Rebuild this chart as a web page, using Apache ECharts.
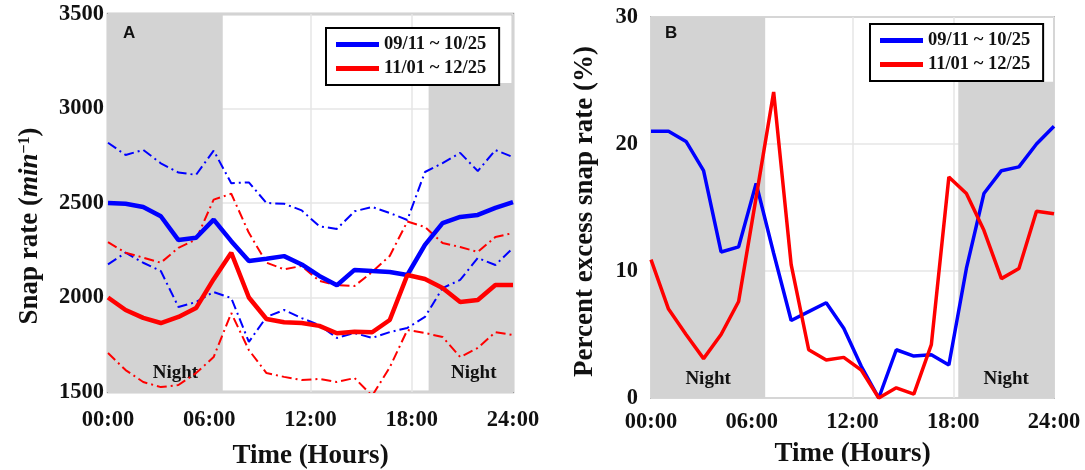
<!DOCTYPE html>
<html>
<head>
<meta charset="utf-8">
<script src="https://cdn.jsdelivr.net/npm/echarts@6/dist/echarts.min.js"></script>
<style>
  html, body { margin: 0; padding: 0; background: #fff; }
  #chart { width: 1085px; height: 470px; }
</style>
</head>
<body>
<div id="chart"></div>
<script>
// Hourly snap rates (min^-1) for the two recording periods
const periodNames = ['09/11 ~ 10/25', '11/01 ~ 12/25'];
const hourTicks = ['00:00', '06:00', '12:00', '18:00', '24:00'];

const sepOctMean  = [2500, 2496, 2479, 2430, 2304, 2316, 2412, 2298, 2193, 2205, 2219, 2175, 2114, 2065, 2146, 2140, 2135, 2119, 2278, 2394, 2426, 2437, 2474, 2505];
const sepOctUpper = [2819, 2754, 2781, 2710, 2661, 2649, 2777, 2605, 2609, 2500, 2496, 2461, 2377, 2363, 2456, 2479, 2447, 2410, 2664, 2711, 2765, 2669, 2780, 2743];
const sepOctLower = [2175, 2237, 2184, 2140, 1950, 1976, 2029, 1997, 1765, 1897, 1934, 1891, 1854, 1786, 1812, 1786, 1817, 1839, 1897, 2050, 2093, 2209, 2172, 2262];

const novDecMean  = [2000, 1934, 1892, 1865, 1897, 1944, 2097, 2237, 2000, 1886, 1869, 1865, 1850, 1811, 1819, 1816, 1881, 2119, 2098, 2050, 1976, 1987, 2066, 2066];
const novDecUpper = [2293, 2237, 2211, 2184, 2263, 2307, 2518, 2549, 2342, 2184, 2149, 2167, 2088, 2065, 2061, 2135, 2220, 2402, 2373, 2288, 2267, 2241, 2320, 2341];
const novDecLower = [1706, 1616, 1553, 1526, 1537, 1600, 1685, 1918, 1722, 1600, 1580, 1563, 1569, 1553, 1574, 1480, 1630, 1828, 1812, 1791, 1685, 1733, 1817, 1801];

// Percent excess snap rate (%)
const sepOctExcess = [21.0, 21.0, 20.2, 17.9, 11.5, 11.9, 16.9, 11.4, 6.1, 6.8, 7.5, 5.5, 2.5, 0.0, 3.8, 3.3, 3.4, 2.6, 10.2, 16.1, 17.9, 18.2, 20.0, 21.4];
const novDecExcess = [10.9, 7.0, 5.0, 3.1, 5.0, 7.6, 15.8, 24.1, 10.5, 3.8, 3.0, 3.2, 2.2, 0.0, 0.8, 0.3, 4.2, 17.4, 16.1, 13.2, 9.4, 10.2, 14.7, 14.5];

// Night periods (hours) and the height the evening band reaches below the legend
const nightMorningEnd = 6.8;
const nightEveningStartA = 19;
const nightEveningStartB = 18.3;
const eveningBandTopA = 3135;
const eveningBandTopB = 24.9;

const BLUE = '#0000ff';
const RED = '#ff0000';
const SHADE = '#d3d3d3';
const SERIF = '"Liberation Serif", "DejaVu Serif", serif';
const TICK_SIZE = 22.5;
const NAME_SIZE = 27;

// Samples are spread evenly across the 24 h day
const toPoints = arr => arr.map((v, i) => [i * 24 / (arr.length - 1), v]);

const chart = echarts.init(document.getElementById('chart'), null, { renderer: 'canvas' });

function xAxisFor(gridIndex, labelMargin, nameGap) {
  return {
    type: 'value', gridIndex, min: 0, max: 24, interval: 6, z: 1,
    axisLine: { show: false }, axisTick: { show: false },
    splitLine: { show: true, lineStyle: { color: '#e6e6e6', width: 1.5 } },
    axisLabel: {
      margin: labelMargin, color: '#111', fontFamily: SERIF, fontWeight: 'bold', fontSize: TICK_SIZE,
      formatter: v => hourTicks[Math.round(v / 6)]
    },
    name: 'Time (Hours)', nameLocation: 'middle', nameGap,
    nameTextStyle: { color: '#111', fontFamily: SERIF, fontWeight: 'bold', fontSize: NAME_SIZE }
  };
}

const nightLabel = (dx) => ({
  show: true, position: 'insideBottom', distance: 9, offset: [dx, 0], formatter: 'Night',
  color: '#111', fontFamily: SERIF, fontWeight: 'bold', fontSize: 19
});

function nightSeries(xi, yi, yMin, yMax, eveningStart, eveningTop, dxLeft, dxRight) {
  return {
    type: 'line', xAxisIndex: xi, yAxisIndex: yi, data: [], z: 0, silent: true,
    markArea: {
      silent: true,
      itemStyle: { color: SHADE },
      data: [
        [{ xAxis: 0, yAxis: yMin, label: nightLabel(dxLeft) }, { xAxis: nightMorningEnd, yAxis: yMax }],
        [{ xAxis: eveningStart, yAxis: yMin, label: nightLabel(dxRight) }, { xAxis: 24, yAxis: eveningTop }]
      ]
    }
  };
}

function line(name, xi, yi, data, color, width, dashed) {
  return {
    name, type: 'line', xAxisIndex: xi, yAxisIndex: yi, data: toPoints(data),
    symbol: 'none', z: 2, silent: true,
    lineStyle: dashed
      ? { color, width, type: [10, 4, 2, 4] }
      : { color, width },
    itemStyle: { color }
  };
}

function legendAt(left, top) {
  return {
    left, top, orient: 'vertical', data: periodNames, selectedMode: false,
    icon: 'rect', itemWidth: 43, itemHeight: 5, itemGap: 5, itemTextGap: 6,
    padding: [7, 13, 7, 10],
    backgroundColor: '#fff', borderColor: '#000', borderWidth: 2,
    textStyle: { color: '#111', fontFamily: SERIF, fontWeight: 'bold', fontSize: 18.5 }
  };
}

const option = {
  animation: false,
  backgroundColor: '#fff',
  grid: [
    { left: 108, top: 14, width: 405, height: 378, show: true, z: 1, outerBoundsMode: 'none', containLabel: false,
      borderColor: '#9c9c9c', borderWidth: 2.5, backgroundColor: 'transparent' },
    { left: 651, top: 17, width: 403, height: 381, show: true, z: 1, outerBoundsMode: 'none', containLabel: false,
      borderColor: '#8a8a8a', borderWidth: 1.5, backgroundColor: 'transparent' }
  ],
  xAxis: [xAxisFor(0, 17, 51), xAxisFor(1, 13, 43)],
  yAxis: [
    {
      type: 'value', gridIndex: 0, min: 1500, max: 3500, interval: 500, z: 1,
      axisLine: { show: false }, axisTick: { show: false },
      splitLine: { show: true, lineStyle: { color: '#e6e6e6', width: 1.5 } },
      axisLabel: { margin: 4, color: '#111', fontFamily: SERIF, fontWeight: 'bold', fontSize: TICK_SIZE,
        formatter: v => String(v) },
      name: '{n|Snap rate (}{i|min}{s|−1}{n|)}', nameLocation: 'middle', nameGap: 64,
      nameTextStyle: {
        color: '#111', fontFamily: SERIF, fontWeight: 'bold', fontSize: NAME_SIZE, padding: [0, 46, 0, 0],
        rich: {
          n: { fontFamily: SERIF, fontWeight: 'bold', fontSize: NAME_SIZE, color: '#111' },
          i: { fontFamily: SERIF, fontStyle: 'italic', fontWeight: 'bold', fontSize: NAME_SIZE, color: '#111' },
          s: { fontFamily: SERIF, fontWeight: 'bold', fontSize: 16, color: '#111', verticalAlign: 'top' }
        }
      }
    },
    {
      type: 'value', gridIndex: 1, min: 0, max: 30, interval: 10, z: 1,
      axisLine: { show: false }, axisTick: { show: false },
      splitLine: { show: true, lineStyle: { color: '#e6e6e6', width: 1.5 } },
      axisLabel: { margin: 13, color: '#111', fontFamily: SERIF, fontWeight: 'bold', fontSize: TICK_SIZE },
      name: 'Percent excess snap rate (%)', nameLocation: 'middle', nameGap: 52,
      nameTextStyle: { color: '#111', fontFamily: SERIF, fontWeight: 'bold', fontSize: NAME_SIZE, padding: [0, 8, 0, 0] }
    }
  ],
  legend: [legendAt(326, 28), legendAt(870, 24)],
  graphic: [
    { type: 'text', left: 123, top: 25, z: 10,
      style: { text: 'A', font: 'bold 17px "Liberation Sans", Arial, sans-serif', fill: '#111' } },
    { type: 'text', left: 665, top: 25, z: 10,
      style: { text: 'B', font: 'bold 17px "Liberation Sans", Arial, sans-serif', fill: '#111' } }
  ],
  series: [
    nightSeries(0, 0, 1500, 3500, nightEveningStartA, eveningBandTopA, 10, 3),
    nightSeries(1, 1, 0, 30, nightEveningStartB, eveningBandTopB, 0, 0),

    line('Sep–Oct upper', 0, 0, sepOctUpper, BLUE, 2, true),
    line('Sep–Oct lower', 0, 0, sepOctLower, BLUE, 2, true),
    line('Nov–Dec upper', 0, 0, novDecUpper, RED, 2, true),
    line('Nov–Dec lower', 0, 0, novDecLower, RED, 2, true),
    line(periodNames[0], 0, 0, sepOctMean, BLUE, 4.5, false),
    line(periodNames[1], 0, 0, novDecMean, RED, 4.5, false),

    line(periodNames[0], 1, 1, sepOctExcess, BLUE, 3.5, false),
    line(periodNames[1], 1, 1, novDecExcess, RED, 3.5, false)
  ]
};

chart.setOption(option);
</script>
</body>
</html>
